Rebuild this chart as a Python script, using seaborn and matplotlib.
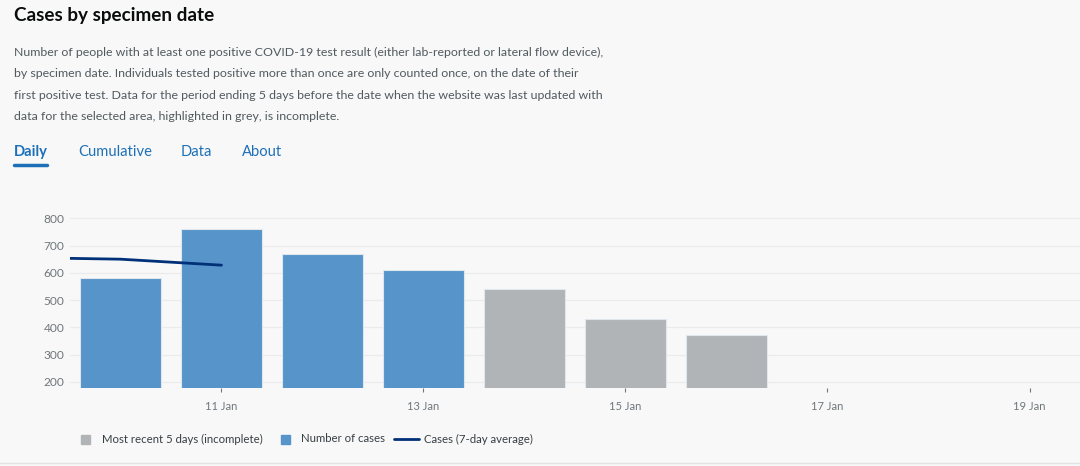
import matplotlib
matplotlib.use('Agg')

import pandas as pd
import seaborn as sns
import matplotlib.pyplot as plt
from matplotlib.patches import Rectangle
from matplotlib.lines import Line2D

# data (day of January)
days = [10, 11, 12, 13, 14, 15, 16]
cases = [582, 760, 670, 611, 539, 432, 371]
status = ['complete', 'complete', 'complete', 'complete', 'incomplete', 'incomplete', 'incomplete']

avg_days = [9, 10, 11]
avg_cases = [656, 650, 628]

tick_days = [11, 13, 15, 17, 19]
tick_labels = ['11 Jan', '13 Jan', '15 Jan', '17 Jan', '19 Jan']

description = [
    "Number of people with at least one positive COVID-19 test result (either lab-reported or lateral flow device),",
    "by specimen date. Individuals tested positive more than once are only counted once, on the date of their",
    "first positive test. Data for the period ending 5 days before the date when the website was last updated with",
    "data for the selected area, highlighted in grey, is incomplete.",
]
tabs = ['Daily', 'Cumulative', 'Data', 'About']

blue = '#5694ca'
grey = '#b1b4b6'
navy = '#003078'
bg = '#f8f8f8'
link = '#1d70b8'

df = pd.DataFrame({'day': days, 'cases': cases, 'status': status})
avg = pd.DataFrame({'day': avg_days, 'cases': avg_cases})

sns.set_style('white')
plt.rcParams['font.family'] = ['Lato', 'DejaVu Sans']

fig = plt.figure(figsize=(10.8, 4.66), dpi=100, facecolor=bg)
ax = fig.add_axes([70 / 1080, 1 - 388.3 / 466, 1 - 70 / 1080, 183.6 / 466])
ax.set_facecolor(bg)

sns.barplot(data=df, x='day', y='cases', hue='status', native_scale=True, dodge=False,
            palette={'complete': blue, 'incomplete': grey}, width=0.8, saturation=1,
            edgecolor='#dfe6ee', linewidth=0.8, legend=False, ax=ax, zorder=2)
sns.lineplot(data=avg, x='day', y='cases', color=navy, linewidth=2, ax=ax, zorder=3)

ax.set_xlim(9.5, 19.5)
ax.set_ylim(176, 850)
ax.set_yticks([200, 300, 400, 500, 600, 700, 800])
ax.set_xticks(tick_days)
ax.set_xticklabels(tick_labels)
ax.grid(axis='y', color='#ebebeb', linewidth=0.9, zorder=0)
ax.set_axisbelow(True)
for s in ax.spines.values():
    s.set_visible(False)
ax.tick_params(axis='x', length=3, width=0.8, color='#777777', pad=6,
               labelsize=8, labelcolor='#6f777b', direction='out', bottom=True)
ax.tick_params(axis='y', length=0, pad=4, labelsize=8.6, labelcolor='#6f777b')
ax.set_xlabel('')
ax.set_ylabel('')

# header text
fig.text(14 / 1080, 1 - 16 / 466, 'Cases by specimen date', fontsize=13.6, fontweight='bold',
         color='#0b0c0c', va='center', ha='left')
for i, line in enumerate(description):
    fig.text(14 / 1080, 1 - (52 + 21.6 * i) / 466, line, fontsize=8.9, color='#505a5f',
             va='center', ha='left')

tab_x = [14, 78, 181, 242]
for i, (t, x) in enumerate(zip(tabs, tab_x)):
    fig.text(x / 1080, 1 - 152 / 466, t, fontsize=10.6, color=link, va='center', ha='left',
             fontweight='bold' if i == 0 else 'normal')
fig.add_artist(Line2D([14 / 1080, 47 / 1080], [1 - 164.5 / 466] * 2, color=link, linewidth=2.5))

# legend drawn by hand
ly = 1 - 439 / 466
fig.add_artist(Rectangle((81 / 1080, ly - 4.5 / 466), 9 / 1080, 9 / 466, color=grey, transform=fig.transFigure))
fig.text(102 / 1080, ly, 'Most recent 5 days (incomplete)', fontsize=8.2, color='#383f43', va='center')
fig.add_artist(Rectangle((281 / 1080, ly - 4.5 / 466), 9 / 1080, 9 / 466, color=blue, transform=fig.transFigure))
fig.text(301 / 1080, ly, 'Number of cases', fontsize=8.2, color='#383f43', va='center')
fig.add_artist(Line2D([394 / 1080, 419 / 1080], [ly, ly], color=navy, linewidth=2))
fig.text(424 / 1080, ly, 'Cases (7-day average)', fontsize=8.2, color='#383f43', va='center')

fig.add_artist(Line2D([0, 1], [1 - 463 / 466] * 2, color='#e2e2e2', linewidth=1))

fig.savefig('out.png', dpi=100, facecolor=bg)
